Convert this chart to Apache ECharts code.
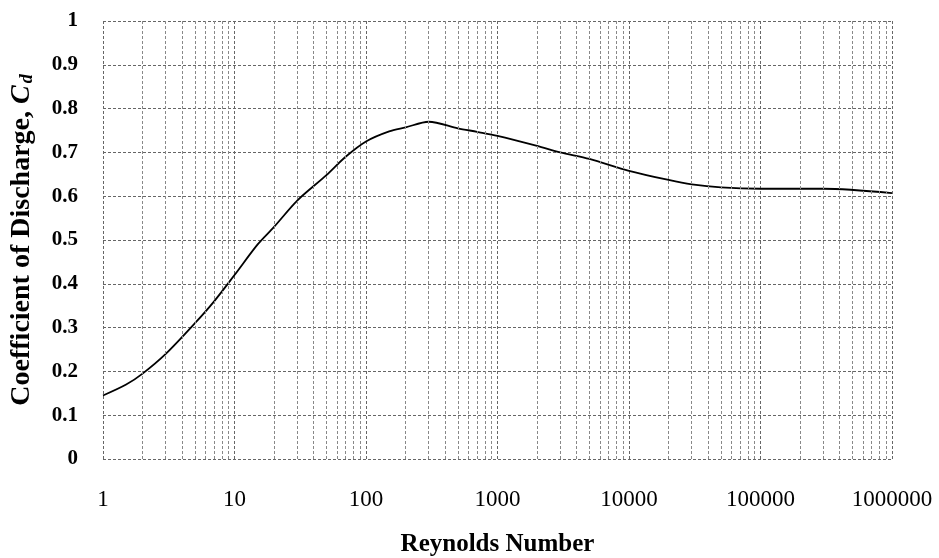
<!DOCTYPE html>
<html>
<head>
<meta charset="utf-8">
<script src="https://cdn.jsdelivr.net/npm/echarts@6/dist/echarts.min.js"></script>
<style>html,body{margin:0;padding:0;background:#fff;}#c{width:939px;height:558px;}</style>
</head>
<body>
<div id="c"></div>
<script>
var reynolds = [1, 1.5, 2, 3, 5, 7, 10, 15, 20, 30, 50, 70, 100, 150, 200, 300, 500, 700, 1000, 2000, 3000, 5000, 10000, 20000, 30000, 50000, 100000, 300000, 1000000];
var cd = [0.145, 0.17, 0.195, 0.24, 0.31, 0.36, 0.42, 0.49, 0.53, 0.59, 0.648, 0.69, 0.725, 0.748, 0.757, 0.77, 0.755, 0.747, 0.738, 0.715, 0.70, 0.685, 0.658, 0.637, 0.627, 0.62, 0.617, 0.617, 0.607];
var minorMultipliers = [2, 3, 4, 5, 6, 7, 8, 9];
var decades = [1, 10, 100, 1000, 10000, 100000];

var minorLines = [];
decades.forEach(function (d) {
  minorMultipliers.forEach(function (k) { minorLines.push({ xAxis: k * d }); });
});

var serif = '"Liberation Serif", "Times New Roman", serif';
var chart = echarts.init(document.getElementById('c'));
chart.setOption({
  animation: false,
  backgroundColor: '#fff',
  grid: { left: 103, right: 47, top: 21, bottom: 99, containLabel: false, outerBoundsMode: 'none' },
  xAxis: {
    type: 'log', logBase: 10, min: 1, max: 1000000,
    name: 'Reynolds Number', nameLocation: 'middle', nameGap: 73,
    nameTextStyle: { fontFamily: serif, fontWeight: 'bold', fontSize: 25, color: '#000' },
    axisLine: { show: false },
    axisTick: { show: false },
    axisLabel: { fontFamily: serif, fontSize: 23, color: '#000', margin: 29,
      formatter: function (v) { return String(Math.round(v)); } },
    splitLine: { show: true, lineStyle: { color: '#666', type: [3, 2], width: 1 } }
  },
  yAxis: {
    type: 'value', min: 0, max: 1, interval: 0.1,
    name: '{a|Coefficient of Discharge, }{c|C}{d|d}', nameLocation: 'middle', nameGap: 67,
    nameTextStyle: {
      rich: {
        a: { fontFamily: serif, fontWeight: 'bold', fontSize: 28, color: '#000' },
        c: { fontFamily: serif, fontWeight: 'bold', fontStyle: 'italic', fontSize: 28, color: '#000' },
        d: { fontFamily: serif, fontWeight: 'bold', fontStyle: 'italic', fontSize: 18, color: '#000', verticalAlign: 'bottom', padding: [10, 0, 0, 2] }
      }
    },
    axisLine: { show: false },
    axisTick: { show: false },
    axisLabel: { fontFamily: serif, fontWeight: 'bold', fontSize: 21, color: '#000', margin: 25,
      formatter: function (v) { return String(Math.round(v * 10) / 10); } },
    splitLine: { show: true, lineStyle: { color: '#666', type: [3, 2], width: 1 } }
  },
  series: [{
    type: 'line',
    data: reynolds.map(function (x, i) { return [x, cd[i]]; }),
    showSymbol: false,
    smooth: 0.3,
    lineStyle: { color: '#000', width: 1.8 },
    markLine: {
      silent: true, symbol: 'none', animation: false,
      label: { show: false },
      lineStyle: { color: '#888', type: [3, 2], width: 1 },
      data: minorLines
    }
  }]
});
</script>
</body>
</html>
